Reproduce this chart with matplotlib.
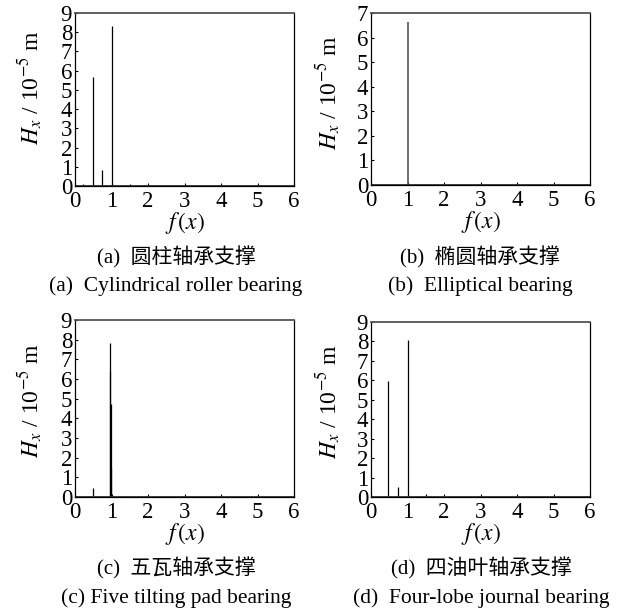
import matplotlib.pyplot as plt

plt.rcParams['font.family'] = ['Liberation Serif', 'Noto Sans CJK SC']
plt.rcParams['mathtext.fontset'] = 'stix'

# spike positions (f/x) and amplitudes (10^-5 m)
a_freq = [0.21, 0.48, 0.73, 1.0, 1.5]
a_amp = [0.08, 5.66, 0.83, 8.33, 0.08]

b_freq = [1.0]
b_amp = [6.62]

c_freq = [0.48, 0.955, 0.965, 0.975, 0.985, 1.5]
c_amp = [0.45, 7.85, 6.4, 4.75, 1.5, 0.05]

d_freq = [0.47, 0.73, 1.0, 1.5]
d_amp = [5.96, 0.53, 8.06, 0.15]

y_max = [9, 7, 9, 9]
captions_cn = ['(a)  圆柱轴承支撑', '(b)  椭圆轴承支撑', '(c)  五瓦轴承支撑', '(d)  四油叶轴承支撑']
captions_en = ['(a)  Cylindrical roller bearing', '(b)  Elliptical bearing',
               '(c) Five tilting pad bearing', '(d)  Four-lobe journal bearing']

W, H = 622, 611
fig = plt.figure(figsize=(W / 100, H / 100), dpi=100)

# axes boxes in pixels: left, top, right, bottom
boxes = [(75, 13, 294, 186), (371, 13, 590, 185), (75, 320, 294, 497), (371, 322, 590, 497)]
ylab_pos = [(30, 88), (328, 93), (30, 401), (328, 402)]
cap_x = [176, 480, 176, 481]
cap_y = [(257, 286), (257, 286), (568, 598), (568, 598)]

series = [(a_freq, a_amp), (b_freq, b_amp), (c_freq, c_amp), (d_freq, d_amp)]

for i, (freq, amp) in enumerate(series):
    l, t, r, b = boxes[i]
    ax = fig.add_axes([l / W, 1 - b / H, (r - l) / W, (b - t) / H])
    col = '#555555' if i == 1 else 'black'
    ax.vlines(freq, 0, amp, color=col, linewidth=1.2 if i == 1 else 0.9)
    ax.axhline(0, color='#333333', linewidth=2.0)
    ax.set_xlim(0, 6)
    ax.set_ylim(0, y_max[i])
    ax.set_xticks(range(0, 7))
    ax.set_yticks(range(0, y_max[i] + 1))
    ax.tick_params(direction='in', length=2.5, width=0.8, labelsize=16.5)
    ax.tick_params(axis='x', pad=3.5)
    ax.tick_params(axis='y', pad=2)
    for s in ax.spines.values():
        s.set_linewidth(0.9)
    ax.spines['top'].set_color('#555555')
    ax.spines['top'].set_linewidth(1.3)
    ax.set_xlabel(r'$f\,(x)$', fontsize=17, labelpad=-1)

    fig.text(ylab_pos[i][0] / W, 1 - ylab_pos[i][1] / H, r'$H_x$ / 10$^{-5}$ m',
             rotation=90, ha='center', va='center', fontsize=17)
    fig.text(cap_x[i] / W, 1 - cap_y[i][0] / H, captions_cn[i],
             ha='center', va='center', fontsize=15)
    fig.text(cap_x[i] / W, 1 - cap_y[i][1] / H, captions_en[i],
             ha='center', va='center', fontsize=15.5)

fig.savefig('out.png', dpi=100)
